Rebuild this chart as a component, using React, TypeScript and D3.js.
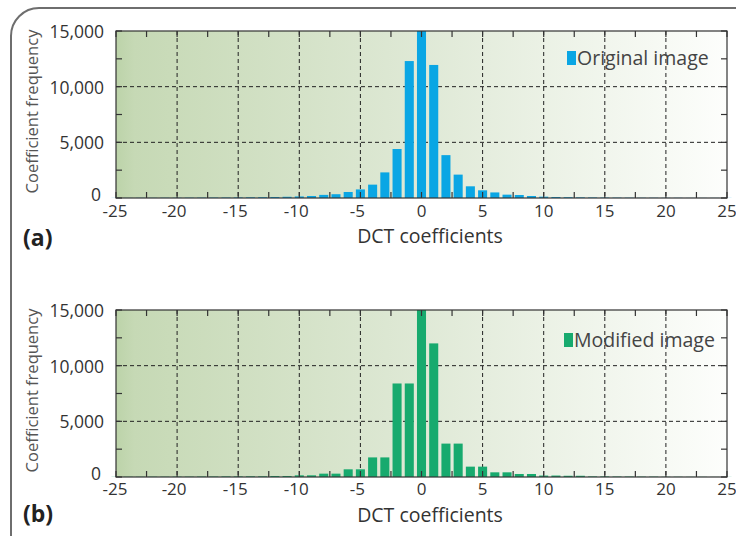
import * as d3 from "d3"

// DCT coefficient bins -25..25
const coefficients = d3.range(-25, 26)

// frequency of each coefficient, original image
const originalCounts = [
  10, 10, 15, 15, 20, 20, 25, 30, 35, 40,
  50, 60, 70, 90, 110, 140, 180, 280, 340, 540,
  770, 1200, 2300, 4400, 12300, 15000, 11950, 3850, 2100, 1050,
  690, 500, 300, 270, 180, 120, 90, 70, 55, 45,
  35, 30, 25, 20, 20, 15, 15, 10, 10, 10, 10,
]

// frequency of each coefficient, modified image (paired bins)
const modifiedCounts = [
  15, 20, 20, 25, 25, 30, 30, 40, 40, 50,
  50, 60, 60, 90, 90, 150, 150, 300, 300, 690,
  690, 1760, 1760, 8400, 8400, 15000, 12000, 3000, 3000, 930,
  930, 420, 420, 270, 270, 130, 130, 110, 110, 50,
  50, 40, 40, 30, 30, 20, 20, 15, 15, 10, 10,
]

const xTickLabels = [-25, -20, -15, -10, -5, 0, 5, 10, 15, 20, 25]
const yTickLabels = [0, 5000, 10000, 15000]

const FONT = "'Open Sans', sans-serif"

interface PanelProps {
  id: string
  counts: number[]
  color: string
  legend: string
  letter: string
  top: number
  bottom: number
  tickLabelY: number
  titleY: number
  letterY: number
  legendX: number
  legendY: number
}

function Panel(p: PanelProps) {
  const left = 116
  const right = 727
  const x = d3.scaleLinear().domain([-25, 25]).range([left, right])
  const y = d3.scaleLinear().domain([0, 15000]).range([p.bottom, p.top])
  const minorX = d3.range(-25, 25.01, 2.5)
  const minorY = d3.range(0, 15001, 2500)
  const tick = 6
  const barW = (x(1) - x(0)) * 0.74

  return (
    <g>
      <rect x={left} y={p.top} width={right - left} height={p.bottom - p.top} fill={`url(#bg-${p.id})`} />
      {[-20, -15, -10, -5, 0, 5, 10, 15, 20].map((v) => (
        <line key={"gx" + v} x1={x(v)} x2={x(v)} y1={p.top} y2={p.bottom} stroke="#222" strokeDasharray="4,3" />
      ))}
      {[5000, 10000].map((v) => (
        <line key={"gy" + v} x1={left} x2={right} y1={y(v)} y2={y(v)} stroke="#222" strokeDasharray="4,3" />
      ))}
      {coefficients.map((c, i) => (
        <rect
          key={"b" + c}
          x={x(c) - barW / 2}
          y={y(p.counts[i])}
          width={barW}
          height={p.bottom - y(p.counts[i])}
          fill={p.color}
        />
      ))}
      <rect x={left} y={p.top} width={right - left} height={p.bottom - p.top} fill="none" stroke="#333" strokeWidth={1.2} />
      {minorX.map((v) => (
        <g key={"tx" + v}>
          <line x1={x(v)} x2={x(v)} y1={p.bottom} y2={p.bottom - tick} stroke="#333" strokeWidth={1.2} />
          <line x1={x(v)} x2={x(v)} y1={p.top} y2={p.top + tick} stroke="#333" strokeWidth={1.2} />
        </g>
      ))}
      {minorY.map((v) => (
        <g key={"ty" + v}>
          <line x1={left} x2={left + tick} y1={y(v)} y2={y(v)} stroke="#333" strokeWidth={1.2} />
          <line x1={right} x2={right - tick} y1={y(v)} y2={y(v)} stroke="#333" strokeWidth={1.2} />
        </g>
      ))}
      {xTickLabels.map((v) => (
        <text key={"lx" + v} x={x(v) - (v < 0 ? (v === -25 ? 1 : 3) : 0)} y={p.tickLabelY} textAnchor="middle" fontSize={17} fill="#333">
          {v}
        </text>
      ))}
      {yTickLabels.map((v) => (
        <text
          key={"ly" + v}
          x={v === 0 ? 101 : 104}
          y={y(v) - (v === 0 ? 4 : 0)}
          textAnchor="end"
          dominantBaseline="central"
          fontSize={17.5}
          fill="#333"
        >
          {d3.format(",")(v)}
        </text>
      ))}
      <text
        transform={`translate(38,${(p.top + p.bottom) / 2 - 3}) rotate(-90)`}
        textAnchor="middle"
        fontSize={16.5}
        fill="#555"
      >
        Coefficient frequency
      </text>
      <text x={430} y={p.titleY} textAnchor="middle" fontSize={19.5} fill="#333">
        DCT coefficients
      </text>
      <text x={23} y={p.letterY} fontSize={23} fontWeight="bold" fill="#222">
        {p.letter}
      </text>
      <rect x={p.legendX} y={p.legendY} width={9} height={14} fill={p.color} />
      <text x={p.legendX + 10} y={p.legendY + 13.5} fontSize={19.5} fill="#444">
        {p.legend}
      </text>
    </g>
  )
}

export default function App() {
  return (
    <svg
      width={736}
      height={536}
      style={{ position: "absolute", left: 0, top: 0, fontFamily: FONT }}
    >
      <defs>
        {["a", "b"].map((id) => (
          <linearGradient key={id} id={`bg-${id}`} x1="0" x2="1" y1="0" y2="0">
            <stop offset="0" stopColor="#bcd3a9" />
            <stop offset="0.03" stopColor="#c6d9b5" />
            <stop offset="0.5" stopColor="#dfe9d6" />
            <stop offset="1" stopColor="#fdfefc" />
          </linearGradient>
        ))}
      </defs>
      <rect width={736} height={536} fill="#fff" />
      <path d="M11,536 V36 A28,28 0 0 1 39,8 H736" fill="none" stroke="#6e6e6e" strokeWidth={2} />
      <Panel
        id="a"
        counts={originalCounts}
        color="#0aa6e4"
        legend="Original image"
        letter="(a)"
        top={31}
        bottom={198}
        tickLabelY={216.5}
        titleY={243}
        letterY={246}
        legendX={567}
        legendY={51}
      />
      <Panel
        id="b"
        counts={modifiedCounts}
        color="#17aa6e"
        legend="Modified image"
        letter="(b)"
        top={310}
        bottom={477}
        tickLabelY={494.5}
        titleY={521.5}
        letterY={522}
        legendX={564}
        legendY={333}
      />
    </svg>
  )
}
